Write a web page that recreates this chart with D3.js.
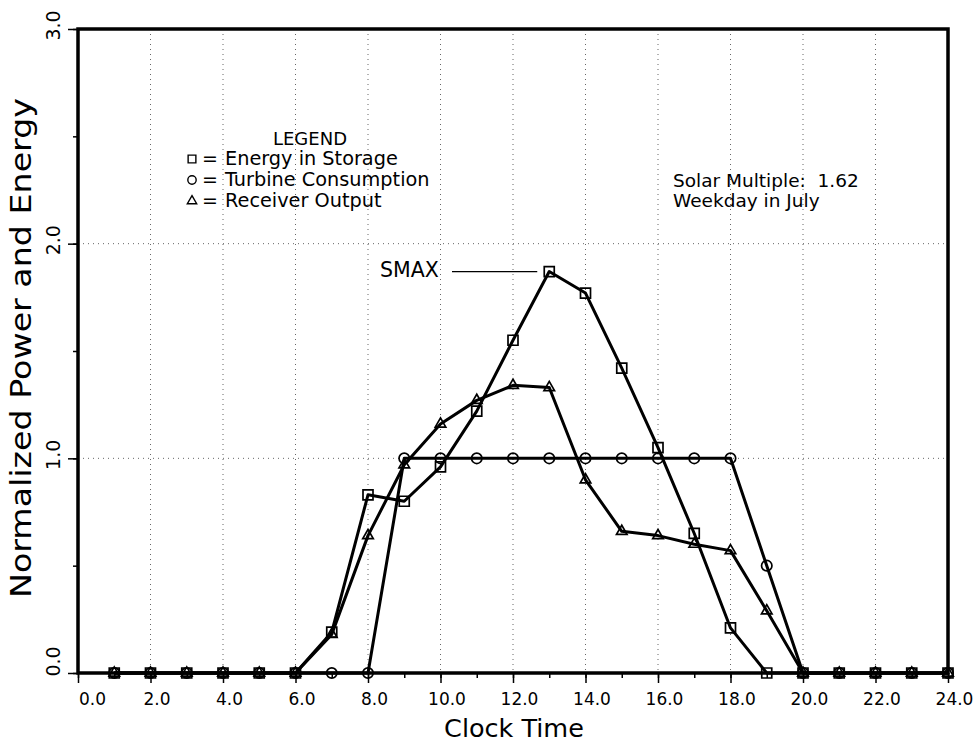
<!DOCTYPE html>
<html>
<head>
<meta charset="utf-8">
<script src="https://cdn.jsdelivr.net/npm/d3@7"></script>
<style>
  html, body { margin: 0; padding: 0; background: #fff; }
  svg { display: block; }
  text { font-family: "DejaVu Sans", sans-serif; fill: #000; white-space: pre; }
</style>
</head>
<body>
<svg id="chart" width="977" height="742"></svg>
<script>
// ---- data ----
const hours = [1, 2, 3, 4, 5, 6, 7, 8, 9, 10, 11, 12, 13, 14, 15, 16, 17, 18, 19, 20, 21, 22, 23, 24];
const storage  = [0, 0, 0, 0, 0, 0, 0.19, 0.83, 0.80, 0.96, 1.22, 1.55, 1.87, 1.77, 1.42, 1.05, 0.65, 0.21, 0, 0, 0, 0, 0, 0];
const turbine  = [0, 0, 0, 0, 0, 0, 0, 0, 1.0, 1.0, 1.0, 1.0, 1.0, 1.0, 1.0, 1.0, 1.0, 1.0, 0.50, 0, 0, 0, 0, 0];
const receiver = [0, 0, 0, 0, 0, 0, 0.18, 0.64, 0.97, 1.16, 1.27, 1.34, 1.33, 0.90, 0.66, 0.64, 0.60, 0.57, 0.29, 0, 0, 0, 0, 0];
const xTickValues = [0, 2, 4, 6, 8, 10, 12, 14, 16, 18, 20, 22, 24];
const yTickValues = [0, 1, 2, 3];
const legendTitle = "LEGEND";
const legendLabels = ["Energy in Storage", "Turbine Consumption", "Receiver Output"];
const noteLines = ["Solar Multiple:  1.62", "Weekday in July"];
const smaxLabel = "SMAX";
const xTitle = "Clock Time";
const yTitle = "Normalized Power and Energy";

// ---- layout ----
const svg = d3.select("#chart");
const L = 78, R = 948, T = 29, B = 673;
const x = d3.scaleLinear().domain([0, 24]).range([L, R]);
const y = d3.scaleLinear().domain([0, 3]).range([B, T]);

// grid (dotted)
const grid = svg.append("g").attr("stroke", "#666").attr("stroke-width", 1).attr("stroke-dasharray", "1,4");
grid.selectAll("line.v").data(d3.range(2, 24, 2)).join("line")
  .attr("x1", d => x(d)).attr("x2", d => x(d)).attr("y1", T).attr("y2", B);
grid.selectAll("line.h").data([1, 2]).join("line")
  .attr("x1", L).attr("x2", R).attr("y1", d => y(d)).attr("y2", d => y(d));

// axes
const fmt = d3.format(".1f");
const xMinor = svg.append("g").attr("transform", `translate(0,${B})`)
  .call(d3.axisBottom(x).tickValues(d3.range(0, 25, 1)).tickSize(5).tickFormat(""));
const xMajor = svg.append("g").attr("transform", `translate(0,${B})`)
  .call(d3.axisBottom(x).tickValues(xTickValues).tickSize(10).tickFormat(fmt));
const yMinor = svg.append("g").attr("transform", `translate(${L},0)`)
  .call(d3.axisLeft(y).tickValues(d3.range(0, 3.01, 0.5)).tickSize(5).tickFormat(""));
const yMajor = svg.append("g").attr("transform", `translate(${L},0)`)
  .call(d3.axisLeft(y).tickValues(yTickValues).tickSize(10).tickFormat(fmt));
[xMinor, xMajor, yMinor, yMajor].forEach(g => {
  g.select(".domain").remove();
  g.selectAll(".tick line").attr("stroke", "#000").attr("stroke-width", 1.5);
});
xMajor.selectAll(".tick text")
  .attr("font-size", 17).attr("font-family", "DejaVu Sans").attr("fill", "#000")
  .attr("x", d => d === 0 ? 14 : 6).attr("y", 32).attr("dy", 0);
yMajor.selectAll(".tick text")
  .attr("font-size", 19).attr("font-family", "DejaVu Sans").attr("fill", "#000")
  .attr("x", 0).attr("dy", 0)
  .attr("text-anchor", "middle")
  .attr("transform", d => `translate(-18,${d === 0 ? -12 : -4}) rotate(-90)`);

// frame
svg.append("rect").attr("x", L).attr("y", T).attr("width", R - L).attr("height", B - T)
  .attr("fill", "none").attr("stroke", "#000").attr("stroke-width", 3.5);

// series
const series = [
  { name: "storage", values: storage, marker: "square" },
  { name: "turbine", values: turbine, marker: "circle" },
  { name: "receiver", values: receiver, marker: "triangle" }
];
const line = d3.line().x(d => x(d[0])).y(d => y(d[1]));
series.forEach(s => {
  const pts = hours.map((h, i) => [h, s.values[i]]);
  svg.append("path").datum(pts).attr("d", line)
    .attr("fill", "none").attr("stroke", "#000").attr("stroke-width", 3)
    .attr("stroke-linejoin", "round");
});
const symSize = { square: 100, circle: 85, triangle: 48 };
const symType = { square: d3.symbolSquare, circle: d3.symbolCircle, triangle: d3.symbolTriangle };
series.forEach(s => {
  const sym = d3.symbol().type(symType[s.marker]).size(symSize[s.marker]);
  svg.append("g").selectAll("path").data(hours.map((h, i) => [h, s.values[i]])).join("path")
    .attr("d", sym)
    .attr("transform", d => `translate(${x(d[0])},${y(d[1])})`)
    .attr("fill", "none")
    .attr("stroke", "#000").attr("stroke-width", 1.7);
});

// axis titles
svg.append("text").attr("x", 514).attr("y", 737).attr("text-anchor", "middle")
  .attr("font-size", 25.5).text(xTitle);
svg.append("text").attr("transform", "translate(31,348) rotate(-90)")
  .attr("text-anchor", "middle").attr("font-size", 28)
  .attr("textLength", 500).attr("lengthAdjust", "spacingAndGlyphs").text(yTitle);

// legend
svg.append("text").attr("x", 310).attr("y", 145).attr("text-anchor", "middle")
  .attr("font-size", 18).text(legendTitle);
const legendSyms = ["square", "circle", "triangle"];
const legendSizes = { square: 60, circle: 55, triangle: 38 };
legendLabels.forEach((lab, i) => {
  const by = 165 + i * 21;
  svg.append("path")
    .attr("d", d3.symbol().type(symType[legendSyms[i]]).size(legendSizes[legendSyms[i]])())
    .attr("transform", `translate(192,${by - 6})`)
    .attr("fill", "none").attr("stroke", "#000").attr("stroke-width", 1.4);
  svg.append("text").attr("x", 202).attr("y", by).attr("font-size", 19).text("=");
  svg.append("text").attr("x", 225).attr("y", by).attr("font-size", 19.3).text(lab);
});

// note
noteLines.forEach((t, i) => {
  svg.append("text").attr("x", 673).attr("y", 187 + i * 20).attr("font-size", 18.5).text(t);
});

// SMAX annotation
svg.append("text").attr("x", 380).attr("y", 277).attr("font-size", 20.5).text(smaxLabel);
const smaxIdx = storage.indexOf(d3.max(storage));
svg.append("line").attr("x1", 452).attr("x2", x(hours[smaxIdx]) - 12)
  .attr("y1", y(storage[smaxIdx])).attr("y2", y(storage[smaxIdx]))
  .attr("stroke", "#000").attr("stroke-width", 1.3);
</script>
</body>
</html>
